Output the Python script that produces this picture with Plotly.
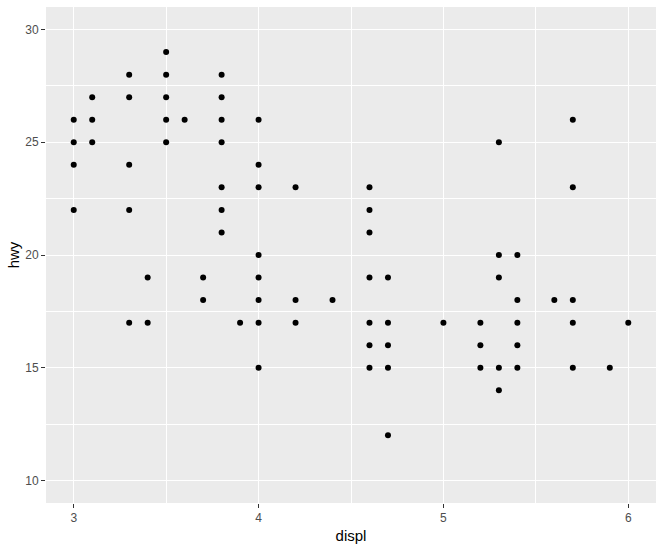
import plotly.graph_objects as go

# displ / hwy values
displ = [3.0, 3.0, 3.0, 3.0,
         3.1, 3.1, 3.1,
         3.3, 3.3, 3.3, 3.3, 3.3,
         3.4, 3.4,
         3.5, 3.5, 3.5, 3.5, 3.5,
         3.6,
         3.7, 3.7,
         3.8, 3.8, 3.8, 3.8, 3.8, 3.8, 3.8,
         3.9,
         4.0, 4.0, 4.0, 4.0, 4.0, 4.0, 4.0, 4.0,
         4.2, 4.2, 4.2,
         4.4,
         4.6, 4.6, 4.6, 4.6, 4.6, 4.6, 4.6,
         4.7, 4.7, 4.7, 4.7, 4.7,
         5.0,
         5.2, 5.2, 5.2,
         5.3, 5.3, 5.3, 5.3, 5.3,
         5.4, 5.4, 5.4, 5.4, 5.4,
         5.6,
         5.7, 5.7, 5.7, 5.7, 5.7,
         5.9,
         6.0]
hwy = [26, 25, 24, 22,
       27, 26, 25,
       28, 27, 24, 22, 17,
       19, 17,
       29, 28, 27, 26, 25,
       26,
       19, 18,
       28, 27, 26, 25, 23, 22, 21,
       17,
       26, 24, 23, 20, 19, 18, 17, 15,
       23, 18, 17,
       18,
       23, 22, 21, 19, 17, 16, 15,
       19, 17, 16, 15, 12,
       17,
       17, 16, 15,
       25, 20, 19, 15, 14,
       20, 18, 17, 16, 15,
       18,
       26, 23, 18, 17, 15,
       15,
       17]

x_ticks = [3, 4, 5, 6]
y_ticks = [10, 15, 20, 25, 30]

fig = go.Figure(go.Scatter(
    x=displ, y=hwy, mode="markers",
    marker=dict(color="black", size=6, line=dict(width=0)),
    hoverinfo="x+y",
))

axis_common = dict(
    showline=False, zeroline=False, automargin=False,
    gridcolor="white", gridwidth=1.1,
    ticks="outside", ticklen=4, tickwidth=1.1, tickcolor="#333333",
    tickfont=dict(family="Liberation Sans, Arial, sans-serif", size=12, color="#4D4D4D"),
    title_font=dict(family="Liberation Sans, Arial, sans-serif", size=15, color="black"),
)

fig.update_xaxes(
    **axis_common,
    range=[2.85, 6.15], tickvals=x_ticks, ticktext=[str(v) for v in x_ticks],
    title_text="displ", title_standoff=6,
    minor=dict(tickvals=[3.5, 4.5, 5.5], showgrid=True, gridcolor="white", gridwidth=0.55, ticks=""),
)
fig.update_yaxes(
    **axis_common,
    range=[9, 31], tickvals=y_ticks, ticktext=[str(v) for v in y_ticks],
    title_text="hwy", title_standoff=1,
    minor=dict(tickvals=[12.5, 17.5, 22.5, 27.5], showgrid=True, gridcolor="white", gridwidth=0.55, ticks=""),
)

fig.update_layout(
    width=664, height=548,
    margin=dict(l=46, r=8, t=7, b=45),
    plot_bgcolor="#EBEBEB", paper_bgcolor="white",
    showlegend=False,
    font=dict(family="Liberation Sans, Arial, sans-serif"),
)

fig.write_html(
    "out.html",
    config={"displayModeBar": False},
    post_script="document.body.style.margin='0';document.body.style.overflow='hidden';",
)
